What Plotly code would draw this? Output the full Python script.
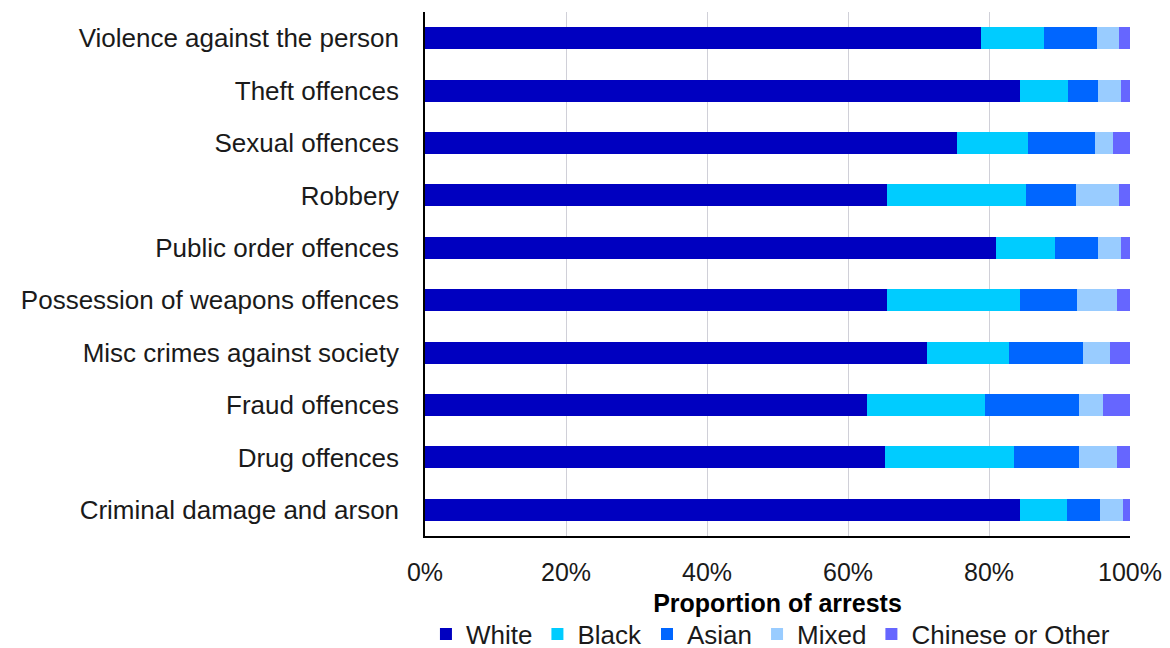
import plotly.graph_objects as go

categories = [
    "Violence against the person",
    "Theft offences",
    "Sexual offences",
    "Robbery",
    "Public order offences",
    "Possession of weapons offences",
    "Misc crimes against society",
    "Fraud offences",
    "Drug offences",
    "Criminal damage and arson",
]

white = [78.9, 84.4, 75.5, 65.5, 81.0, 65.5, 71.2, 62.7, 65.3, 84.4]
black = [8.9, 6.8, 10.0, 19.8, 8.4, 18.9, 11.6, 16.7, 18.3, 6.6]
asian = [7.5, 4.3, 9.6, 7.0, 6.0, 8.1, 10.5, 13.4, 9.2, 4.8]
mixed = [3.2, 3.2, 2.5, 6.1, 3.3, 5.7, 3.8, 3.4, 5.3, 3.2]
other = [1.5, 1.3, 2.4, 1.6, 1.3, 1.8, 2.9, 3.8, 1.9, 1.0]

series = [
    ("White", white, "#0000C0"),
    ("Black", black, "#00CCFF"),
    ("Asian", asian, "#0066FF"),
    ("Mixed", mixed, "#99CCFF"),
    ("Chinese or Other", other, "#6666FF"),
]

x_ticks = [0, 20, 40, 60, 80, 100]
x_tick_labels = ["0%", "20%", "40%", "60%", "80%", "100%"]

fig = go.Figure()
for name, vals, col in series:
    fig.add_trace(go.Bar(
        y=categories, x=vals, name=name, orientation="h",
        marker=dict(color=col, line=dict(width=0)),
    ))

font_family = "Liberation Sans, Arial, sans-serif"
fig.update_layout(
    barmode="stack",
    bargap=0.58,
    width=1170, height=648,
    margin=dict(l=417, r=48, t=4, b=120, autoexpand=False),
    paper_bgcolor="white", plot_bgcolor="white",
    font=dict(family=font_family, size=26, color="#1a1a1a"),
    showlegend=True,
    legend=dict(orientation="h", x=0.49, xanchor="center", y=-0.187, yanchor="middle",
                font=dict(size=26), traceorder="normal", itemwidth=30,
                tracegroupgap=0),
    xaxis=dict(
        range=[0, 100], tickvals=x_ticks, ticktext=x_tick_labels,
        showgrid=True, gridcolor="#D0D0D8", gridwidth=1,
        showline=True, linecolor="#000000", linewidth=1.5,
        zeroline=False, ticks="", ticklabelstandoff=13,
        tickfont=dict(size=25),
        title=dict(text="<b>Proportion of arrests</b>", standoff=10,
                   font=dict(size=25, color="#000000")),
    ),
    yaxis=dict(
        autorange="reversed", showline=True, linecolor="#000000", linewidth=1.5,
        showgrid=False, ticks="", ticklabelstandoff=19,
        tickfont=dict(size=26),
    ),
)

fig.write_html("out.html")
